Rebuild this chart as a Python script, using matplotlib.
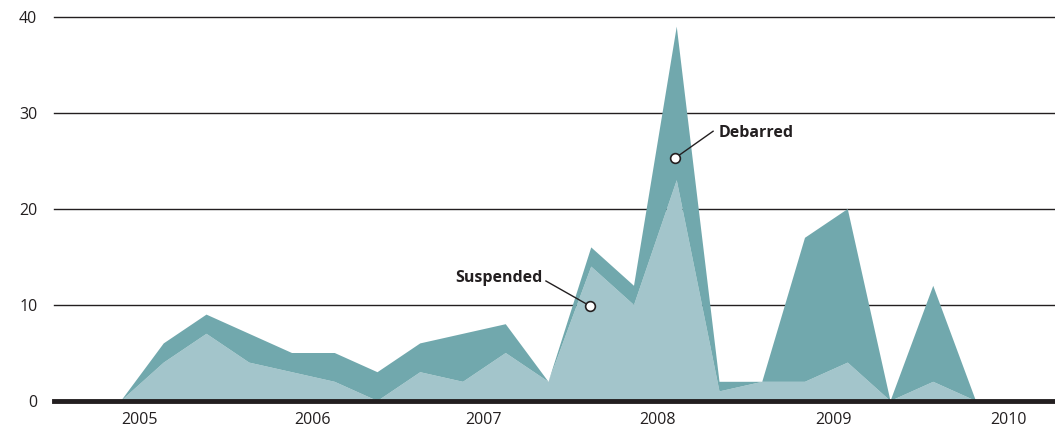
import matplotlib
matplotlib.use("Agg")
import matplotlib.pyplot as plt
import numpy as np

# Quarterly data (index of quarter)
quarters = list(range(21))
suspended = [0, 4, 7, 4, 3, 2, 0, 3, 2, 5, 2, 14, 10, 23, 1, 2, 2, 4, 0, 2, 0]
debarred = [0, 2, 2, 3, 2, 3, 3, 3, 5, 3, 0, 2, 2, 16, 1, 0, 15, 16, 0, 10, 0]
year_labels = ["2005", "2006", "2007", "2008", "2009", "2010"]
year_label_pos = [0.44, 4.49, 8.47, 12.55, 16.67, 20.76]
y_ticks = [0, 10, 20, 30, 40]

dark = "#71a8ad"
light = "#a3c5cb"
ink = "#231f20"

plt.rcParams['font.family'] = ['Open Sans', 'DejaVu Sans']

fig = plt.figure(figsize=(10.55, 4.3), dpi=100)
ax = fig.add_axes([54/1055, 1-401/430, 1-54/1055, (401-17)/430])

ax.stackplot(quarters, suspended, debarred, colors=[light, dark], linewidth=0)

ax.set_xlim(-(121-54)/42.75, 20 + (1055-976)/42.75)
ax.set_ylim(0, 40)

for y in y_ticks[1:]:
    ax.axhline(y, color=ink, lw=1.0, zorder=0, clip_on=False)
ax.axhline(0, color=ink, lw=3.5, zorder=5, clip_on=False)

for s in ax.spines.values():
    s.set_visible(False)

ax.set_yticks(y_ticks)
ax.set_yticklabels([str(v) for v in y_ticks], fontsize=11.5, color=ink)
ax.tick_params(axis='y', length=0, pad=12)
ax.set_xticks(year_label_pos)
ax.set_xticklabels(year_labels, fontsize=11.5, color=ink)
ax.tick_params(axis='x', length=0, pad=8)

# Annotations
ax.text(13.99, 27.9, "Debarred", fontsize=11.5, fontweight='bold', color=ink,
        va='center', ha='left')
ax.plot([13.85, 12.96], [28.1, 25.3], color=ink, lw=1.0, zorder=9)
ax.plot([12.96], [25.3], marker='o', ms=7, mfc='white', mec=ink, mew=1.2, zorder=10, clip_on=False)

ax.text(9.85, 12.8, "Suspended", fontsize=11.5, fontweight='bold', color=ink,
        va='center', ha='right')
ax.plot([9.94, 10.97], [12.5, 9.9], color=ink, lw=1.0, zorder=9)
ax.plot([10.97], [9.9], marker='o', ms=7, mfc='white', mec=ink, mew=1.2, zorder=10, clip_on=False)

fig.savefig("out.png", dpi=100)
